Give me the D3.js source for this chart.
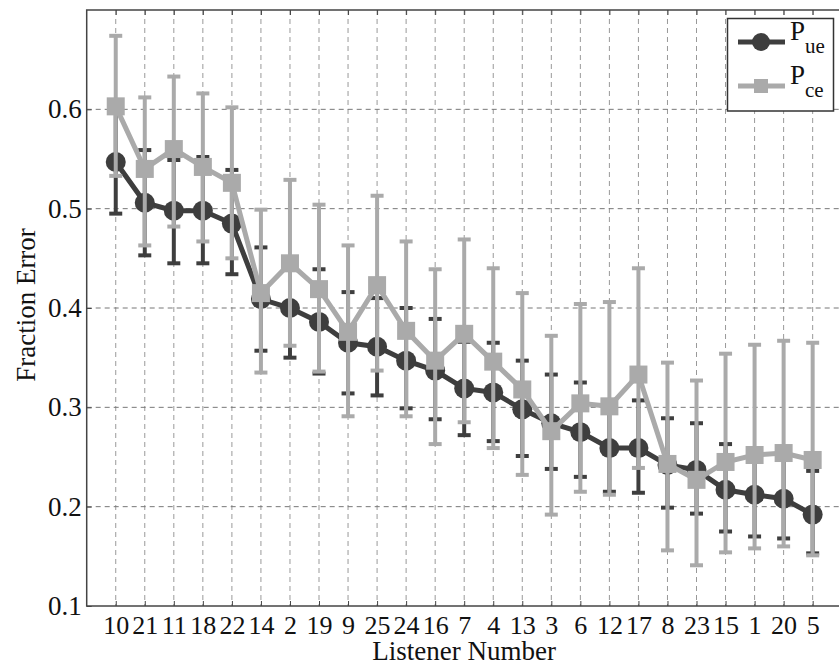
<!DOCTYPE html>
<html>
<head>
<meta charset="utf-8">
<script src="https://cdn.jsdelivr.net/npm/d3@7"></script>
<style>
  body { margin: 0; background: #fff; }
</style>
</head>
<body>
<div id="chart"></div>
<script>
// Listener order on the x axis
const listeners = [10, 21, 11, 18, 22, 14, 2, 19, 9, 25, 24, 16, 7, 4, 13, 3, 6, 12, 17, 8, 23, 15, 1, 20, 5];

// P_ue (dark, circles)
const pueMean = [0.547, 0.506, 0.498, 0.498, 0.485, 0.409, 0.400, 0.386, 0.365, 0.361, 0.347, 0.337, 0.319, 0.315, 0.298, 0.284, 0.275, 0.259, 0.259, 0.242, 0.237, 0.217, 0.212, 0.208, 0.192];
const pueLow  = [0.495, 0.453, 0.445, 0.445, 0.434, 0.357, 0.350, 0.334, 0.314, 0.312, 0.299, 0.288, 0.272, 0.266, 0.251, 0.238, 0.230, 0.215, 0.214, 0.199, 0.193, 0.175, 0.170, 0.168, 0.153];
const pueHigh = [0.599, 0.559, 0.549, 0.552, 0.539, 0.461, 0.451, 0.439, 0.416, 0.410, 0.400, 0.389, 0.366, 0.365, 0.347, 0.333, 0.325, 0.303, 0.307, 0.289, 0.284, 0.263, 0.254, 0.248, 0.236];

// P_ce (light, squares)
const pceMean = [0.603, 0.540, 0.560, 0.542, 0.526, 0.415, 0.445, 0.419, 0.376, 0.423, 0.377, 0.347, 0.374, 0.346, 0.318, 0.276, 0.304, 0.301, 0.333, 0.243, 0.227, 0.245, 0.252, 0.254, 0.247];
const pceLow  = [0.533, 0.463, 0.482, 0.467, 0.450, 0.335, 0.362, 0.336, 0.291, 0.337, 0.291, 0.263, 0.285, 0.259, 0.232, 0.192, 0.215, 0.212, 0.239, 0.156, 0.141, 0.154, 0.158, 0.160, 0.151];
const pceHigh = [0.674, 0.612, 0.633, 0.616, 0.602, 0.499, 0.529, 0.504, 0.463, 0.513, 0.467, 0.439, 0.469, 0.440, 0.415, 0.372, 0.404, 0.406, 0.440, 0.345, 0.327, 0.354, 0.363, 0.367, 0.365];

const yTicks = [0.1, 0.2, 0.3, 0.4, 0.5, 0.6];

const width = 839, height = 665;
const margin = { top: 10, left: 86.7, bottom: 59, right: -2.7 };
const darkCol = "#3e3e3e", lightCol = "#aaaaaa";
const serif = "'Liberation Serif', 'Times New Roman', Times, serif";
const fs = 27;

const svg = d3.select("#chart").append("svg")
    .attr("width", width)
    .attr("height", height)
    .attr("font-family", serif);

const x = d3.scaleLinear()
    .domain([0, listeners.length + 1])
    .range([margin.left, width - margin.right]);

const y = d3.scaleLinear()
    .domain([0.1, 0.7])
    .range([height - margin.bottom, margin.top]);

const idx = d3.range(1, listeners.length + 1);

// Grid
svg.append("g").selectAll("line")
    .data(idx).enter().append("line")
    .attr("x1", d => x(d)).attr("x2", d => x(d))
    .attr("y1", y(0.7)).attr("y2", y(0.1))
    .attr("stroke", "#999").attr("stroke-width", 1)
    .attr("stroke-dasharray", "5,4");

svg.append("g").selectAll("line")
    .data(yTicks.slice(1)).enter().append("line")
    .attr("x1", x(0)).attr("x2", x(listeners.length + 1))
    .attr("y1", d => y(d)).attr("y2", d => y(d))
    .attr("stroke", "#777").attr("stroke-width", 1)
    .attr("stroke-dasharray", "5,4");

// Axes
const xAxis = svg.append("g")
    .attr("transform", `translate(0,${y(0.1)})`)
    .call(d3.axisBottom(x).tickValues(idx).tickFormat(d => listeners[d - 1]).tickSize(-5).tickPadding(10));
xAxis.attr("font-family", serif).attr("font-size", 26);
xAxis.select(".domain").remove();
xAxis.selectAll("line").attr("stroke", "#444");
xAxis.selectAll("text").attr("fill", "#111");

svg.append("g")
    .attr("transform", `translate(0,${y(0.7)})`)
    .call(d3.axisTop(x).tickValues(idx).tickFormat("").tickSize(-5))
    .call(g => g.select(".domain").remove())
    .selectAll("line").attr("stroke", "#444");

const yAxis = svg.append("g")
    .attr("transform", `translate(${x(0)},0)`)
    .call(d3.axisLeft(y).tickValues(yTicks).tickFormat(d3.format(".1f")).tickSize(-5).tickPadding(5));
yAxis.attr("font-family", serif).attr("font-size", fs);
yAxis.select(".domain").remove();
yAxis.selectAll("line").attr("stroke", "#444");
yAxis.selectAll("text").attr("fill", "#111");

// Frame
svg.append("rect")
    .attr("x", x(0)).attr("y", y(0.7))
    .attr("width", x(listeners.length + 1) - x(0))
    .attr("height", y(0.1) - y(0.7))
    .attr("fill", "none").attr("stroke", "#444").attr("stroke-width", 1.5);

// Series drawing
function drawSeries(mean, low, high, color, marker) {
    const g = svg.append("g");
    const pts = idx.map((d, i) => ({ i: d, m: mean[i], lo: low[i], hi: high[i] }));

    g.selectAll(".eb").data(pts).enter().append("line")
        .attr("x1", d => x(d.i)).attr("x2", d => x(d.i))
        .attr("y1", d => y(d.lo)).attr("y2", d => y(d.hi))
        .attr("stroke", color).attr("stroke-width", 4);

    ["lo", "hi"].forEach(k => {
        g.selectAll(".cap-" + k).data(pts).enter().append("line")
            .attr("x1", d => x(d.i) - 6.5).attr("x2", d => x(d.i) + 6.5)
            .attr("y1", d => y(d[k])).attr("y2", d => y(d[k]))
            .attr("stroke", color).attr("stroke-width", 4);
    });

    g.append("path")
        .datum(pts)
        .attr("fill", "none").attr("stroke", color).attr("stroke-width", 5)
        .attr("d", d3.line().x(d => x(d.i)).y(d => y(d.m)));

    if (marker === "circle") {
        g.selectAll("circle").data(pts).enter().append("circle")
            .attr("cx", d => x(d.i)).attr("cy", d => y(d.m)).attr("r", 10)
            .attr("fill", color);
    } else {
        g.selectAll("rect").data(pts).enter().append("rect")
            .attr("x", d => x(d.i) - 9).attr("y", d => y(d.m) - 9)
            .attr("width", 18).attr("height", 18)
            .attr("fill", color);
    }
}

drawSeries(pueMean, pueLow, pueHigh, darkCol, "circle");
drawSeries(pceMean, pceLow, pceHigh, lightCol, "square");

// Axis labels
svg.append("text")
    .attr("x", (x(0) + x(listeners.length + 1)) / 2)
    .attr("y", 660)
    .attr("text-anchor", "middle")
    .attr("font-size", fs)
    .attr("fill", "#111")
    .text("Listener Number");

svg.append("text")
    .attr("transform", "rotate(-90)")
    .attr("x", -305)
    .attr("y", 35)
    .attr("text-anchor", "middle")
    .attr("font-size", fs)
    .attr("fill", "#111")
    .text("Fraction Error");

// Legend
const legend = svg.append("g");
legend.append("rect")
    .attr("x", 727.5).attr("y", 18.5).attr("width", 106).attr("height", 92.5)
    .attr("fill", "#fff").attr("stroke", "#333").attr("stroke-width", 1.5);

const legItems = [
    { main: "P", sub: "ue", color: darkCol, marker: "circle", yy: 42, base: 40 },
    { main: "P", sub: "ce", color: lightCol, marker: "square", yy: 86, base: 83.5 }
];
legItems.forEach(it => {
    legend.append("line")
        .attr("x1", 738).attr("x2", 785).attr("y1", it.yy).attr("y2", it.yy)
        .attr("stroke", it.color).attr("stroke-width", 5);
    if (it.marker === "circle") {
        legend.append("circle").attr("cx", 761).attr("cy", it.yy).attr("r", 9).attr("fill", it.color);
    } else {
        legend.append("rect").attr("x", 754).attr("y", it.yy - 7).attr("width", 14).attr("height", 14).attr("fill", it.color);
    }
    const t = legend.append("text").attr("x", 790).attr("y", it.base)
        .attr("font-size", 27).attr("fill", "#111");
    t.append("tspan").text(it.main);
    t.append("tspan").attr("dy", 13).attr("font-size", 21).text(it.sub);
});
</script>
</body>
</html>
